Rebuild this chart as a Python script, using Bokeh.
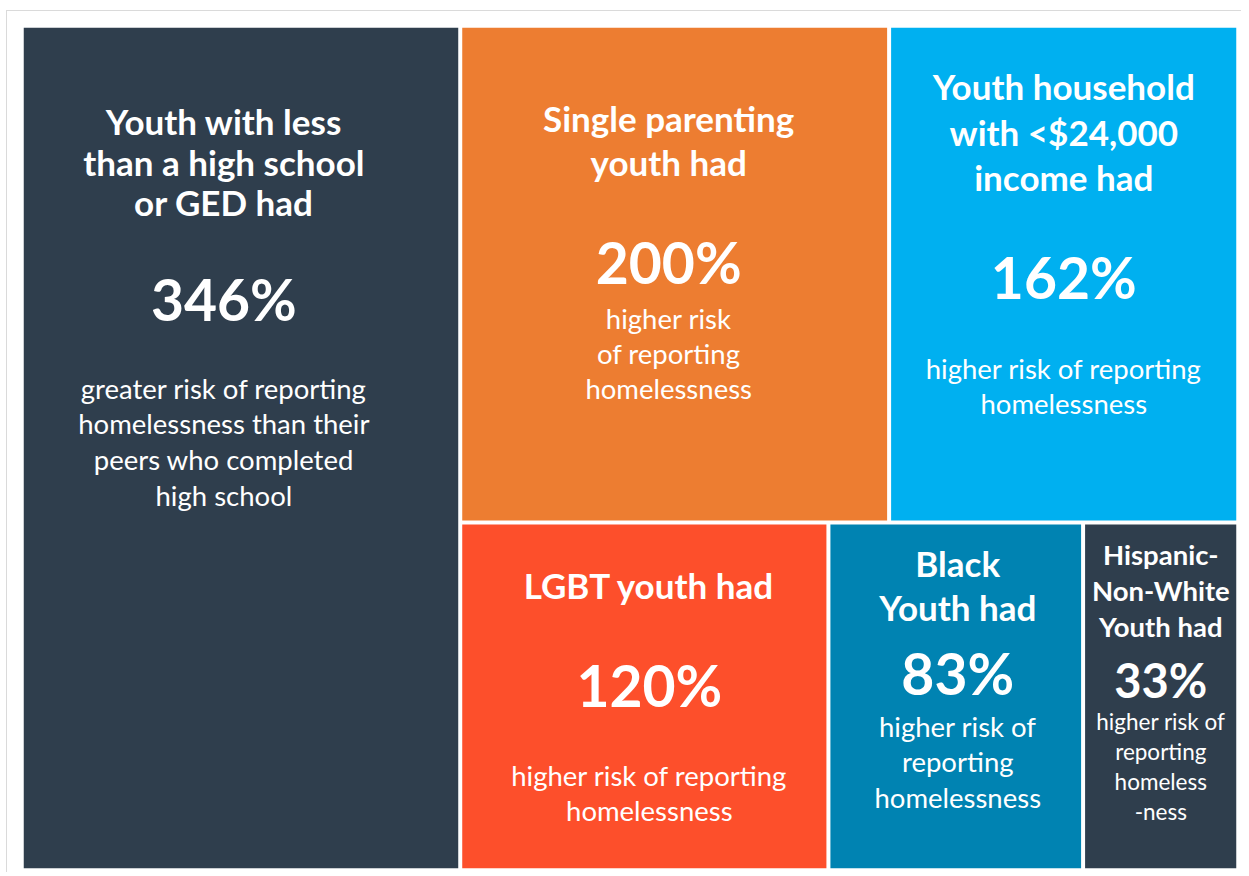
from bokeh.plotting import figure
from bokeh.models import ColumnDataSource, Range1d
from bokeh.core.properties import value
from bokeh.embed import file_html
from bokeh.resources import INLINE

# ---------------- data ----------------
VALUES = [346, 200, 162, 120, 83, 33]
TITLES = [
    "Youth with less\nthan a high school\nor GED had",
    "Single parenting\nyouth had",
    "Youth household\nwith <$24,000\nincome had",
    "LGBT youth had",
    "Black\nYouth had",
    "Hispanic-\nNon-White\nYouth had",
]
DESCRIPTIONS = [
    "greater risk of reporting\nhomelessness than their\npeers who completed\nhigh school",
    "higher risk\nof reporting\nhomelessness",
    "higher risk of reporting\nhomelessness",
    "higher risk of reporting\nhomelessness",
    "higher risk of\nreporting\nhomelessness",
    "higher risk of\nreporting\nhomeless\n-ness",
]

# ---------------- style / layout ----------------
COLORS = ["#2F3E4D", "#ED7D31", "#00B0F0", "#FD4F2B", "#0083B2", "#2F3E4D"]
MIN_TILE_WEIGHT = 50          # smallest tiles are enlarged so their text fits
GAP = 4
PLOT_W, PLOT_H = 1241, 872
B_LEFT, B_RIGHT, B_TOP, B_BOTTOM = 23, 5, 27, 4
FW, FH = PLOT_W - B_LEFT - B_RIGHT, PLOT_H - B_TOP - B_BOTTOM
FONT = "Lato"
BASE_FIX = 0.38   # shift of the rendered baseline, in em
# per tile: (title first baseline, title step, pct baseline, desc first baseline, desc step, dx, small)
TEXT_LAYOUT = [
    (107, 40.5, 293, 371, 35.7, -17, False),
    (104, 44, 256, 301, 35, -6, False),
    (72, 45.5, 271, 351, 35, 0, False),
    (74, 44, 182, 261, 35, 5, False),
    (52, 44, 170, 212, 35.5, 2, False),
    (40, 36, 173, 206, 29.7, 0, True),
]
SIZES = {False: (35, 57, 27.5), True: (27.5, 47, 22.5)}


def worst(row, side):
    s = sum(row)
    return max(max(side * side * r / (s * s), s * s / (side * side * r)) for r in row)


def squarify(weights, x, y, w, h):
    total = float(sum(weights))
    areas = [wt * w * h / total for wt in weights]
    rects = []
    while areas:
        side = min(w, h)
        row = [areas[0]]
        i = 1
        while i < len(areas) and worst(row + [areas[i]], side) <= worst(row, side):
            row.append(areas[i])
            i += 1
        s = sum(row)
        if w >= h:
            cw = s / h
            yy = y
            for a in row:
                rh = a / cw
                rects.append((x, yy, cw, rh))
                yy += rh
            x += cw
            w -= cw
        else:
            rh = s / w
            xx = x
            for a in row:
                rw = a / rh
                rects.append((xx, y, rw, rh))
                xx += rw
            y += rh
            h -= rh
        areas = areas[i:]
    return rects


weights = [max(v, MIN_TILE_WEIGHT) for v in VALUES]
rects = squarify(weights, 0.0, 0.0, float(FW), float(FH))

half = GAP / 2.0
L, R, T, B = [], [], [], []
for (x, y, w, h) in rects:
    L.append(x + (half if x > 0.5 else 0))
    R.append(x + w - (half if x + w < FW - 0.5 else 0))
    T.append(y + (half if y > 0.5 else 0))
    B.append(y + h - (half if y + h < FH - 0.5 else 0))

p = figure(width=PLOT_W, height=PLOT_H, output_backend="svg", toolbar_location=None,
           x_range=Range1d(0, FW), y_range=Range1d(FH, 0),
           x_axis_type=None, y_axis_type=None,
           min_border_left=B_LEFT, min_border_right=B_RIGHT,
           min_border_top=B_TOP, min_border_bottom=B_BOTTOM)
p.grid.visible = False
p.outline_line_color = None
p.background_fill_color = "white"
p.border_fill_color = None
p.styles = {"box-shadow": "inset 6px 10px 0 0 #ffffff, inset 7px 11px 0 0 #dadada"}

p.quad(left=L, right=R, top=T, bottom=B, fill_color=COLORS, line_color=None)

tx, ty, tt, ts = [], [], [], []
px, py, pt, ps = [], [], [], []
dx_, dy_, dt, ds = [], [], [], []
for i, v in enumerate(VALUES):
    t0, tstep, pbase, d0, dstep, dx, small = TEXT_LAYOUT[i]
    s_title, s_pct, s_desc = SIZES[small]
    cx = (L[i] + R[i]) / 2.0 + dx
    top = T[i]
    for k, line in enumerate(TITLES[i].split("\n")):
        tx.append(cx); ty.append(top + t0 + k * tstep - BASE_FIX * s_title); tt.append(line)
        ts.append(f"{s_title}px")
    px.append(cx); py.append(top + pbase - BASE_FIX * s_pct); pt.append(f"{v}%")
    ps.append(f"{s_pct}px")
    for k, line in enumerate(DESCRIPTIONS[i].split("\n")):
        dx_.append(cx); dy_.append(top + d0 + k * dstep - BASE_FIX * s_desc); dt.append(line)
        ds.append(f"{s_desc}px")

for xs, ys, txt, sz, style in [(tx, ty, tt, ts, "bold"), (px, py, pt, ps, "bold"), (dx_, dy_, dt, ds, "normal")]:
    src = ColumnDataSource(dict(x=xs, y=ys, text=txt, size=sz))
    p.text(x="x", y="y", text="text", source=src, text_font=value(FONT), text_font_size="size",
           text_font_style=style, text_color="white", text_align="center", text_baseline="alphabetic")

open("out.html", "w").write(file_html(p, INLINE))
